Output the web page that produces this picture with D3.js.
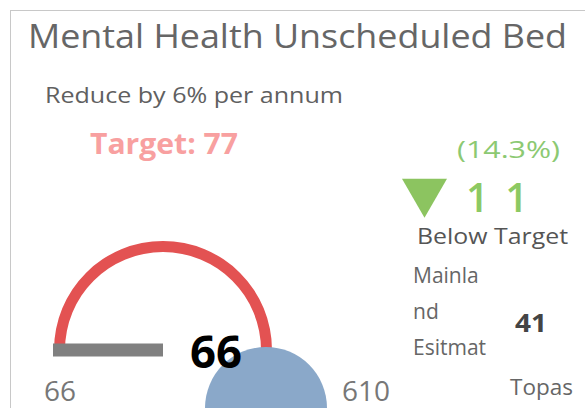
<!DOCTYPE html>
<html>
<head>
<meta charset="utf-8">
<script src="https://cdnjs.cloudflare.com/ajax/libs/d3/7.8.5/d3.min.js"></script>
<style>
  html, body { margin: 0; padding: 0; background: #fff; }
  svg { display: block; font-family: "Segoe UI", "Open Sans", sans-serif; }
</style>
</head>
<body>
<script>
// gauge values
const gaugeRange = [66, 610];
const actualValue = [66];
const targetValue = [77];
const varianceValue = [11];
const variancePct = [-14.3];
const mainlandEstimate = [41];

// texts
const titleText = ["Mental Health Unscheduled Bed"];
const subtitleText = ["Reduce by 6% per annum"];
const estimateLabel = ["Mainla", "nd", "Esitmat"];
const statusLabel = ["Below Target"];
const footerLabel = ["Topas"];

const W = 585, H = 408;

const svg = d3.select("body").append("svg")
  .attr("width", W)
  .attr("height", H);

// card border
svg.append("rect")
  .attr("x", 10.5).attr("y", 10.5)
  .attr("width", 620).attr("height", 500)
  .attr("fill", "none").attr("stroke", "#c8c8c8");

// helper for texts
function label(txt, x, y, opts) {
  const t = svg.append("text")
    .attr("x", x).attr("y", y)
    .attr("font-size", opts.size)
    .attr("fill", opts.fill)
    .attr("font-weight", opts.weight || "normal")
    .attr("text-anchor", opts.anchor || "start")
    .text(txt);
  if (opts.len) t.attr("textLength", opts.len).attr("lengthAdjust", opts.adjust || "spacingAndGlyphs");
  return t;
}

label(titleText[0], 28, 48, { size: 32, fill: "#666", len: 539 });
label(subtitleText[0], 45, 103, { size: 22, fill: "#606060", len: 298 });
label("Target: " + targetValue[0], 90, 154, { size: 29, fill: "#f8a0a0", weight: "bold", len: 148 });

// gauge
const cx = 163, cy = 350;
const angle = d3.scaleLinear().domain(gaugeRange).range([-Math.PI / 2, Math.PI / 2]);

const g = svg.append("g").attr("transform", `translate(${cx},${cy})`);

g.append("path")
  .attr("d", d3.arc()
    .innerRadius(98).outerRadius(109)
    .startAngle(angle(gaugeRange[0]))
    .endAngle(angle(gaugeRange[1]))())
  .attr("fill", "#e35252");

// needle
g.append("rect")
  .attr("x", -6.5).attr("y", -110)
  .attr("width", 13).attr("height", 110)
  .attr("fill", "#808080")
  .attr("transform", `rotate(${angle(actualValue[0]) * 180 / Math.PI})`);

// blue hub
svg.append("path")
  .attr("transform", "translate(266,408)")
  .attr("d", d3.arc().innerRadius(0).outerRadius(61)
    .startAngle(-Math.PI / 2).endAngle(Math.PI / 2)())
  .attr("fill", "#8aa8c9");

label(gaugeRange[0], 60, 401, { size: 28, fill: "#777", anchor: "middle" });
label(gaugeRange[1], 366, 401, { size: 28, fill: "#777", anchor: "middle" });
label(actualValue[0], 216, 368, { size: 44, fill: "#000", weight: "bold", anchor: "middle", len: 52 });

// variance block
const fmtPct = d => "(" + d3.format(".1f")(Math.abs(d)) + "%)";
label(fmtPct(variancePct[0]), 457, 158, { size: 24, fill: "#8cc972", len: 103 });

svg.append("path")
  .attr("transform", "translate(424.5,191.7) rotate(180)")
  .attr("d", d3.symbol().type(d3.symbolTriangle).size(877)())
  .attr("fill", "#8cc460");

label(varianceValue[0], 466, 212, { size: 40, fill: "#8cc963", weight: 600, len: 62, adjust: "spacing" });
label(statusLabel[0], 417, 244, { size: 22, fill: "#555", len: 151 });

estimateLabel.forEach((s, i) => {
  label(s, 413, 283 + i * 36, { size: 21, fill: "#666" });
});
label(mainlandEstimate[0], 531, 332, { size: 25, fill: "#444", weight: "bold", anchor: "middle", len: 32 });
label(footerLabel[0], 510, 395, { size: 22, fill: "#666", len: 63 });
</script>
</body>
</html>
